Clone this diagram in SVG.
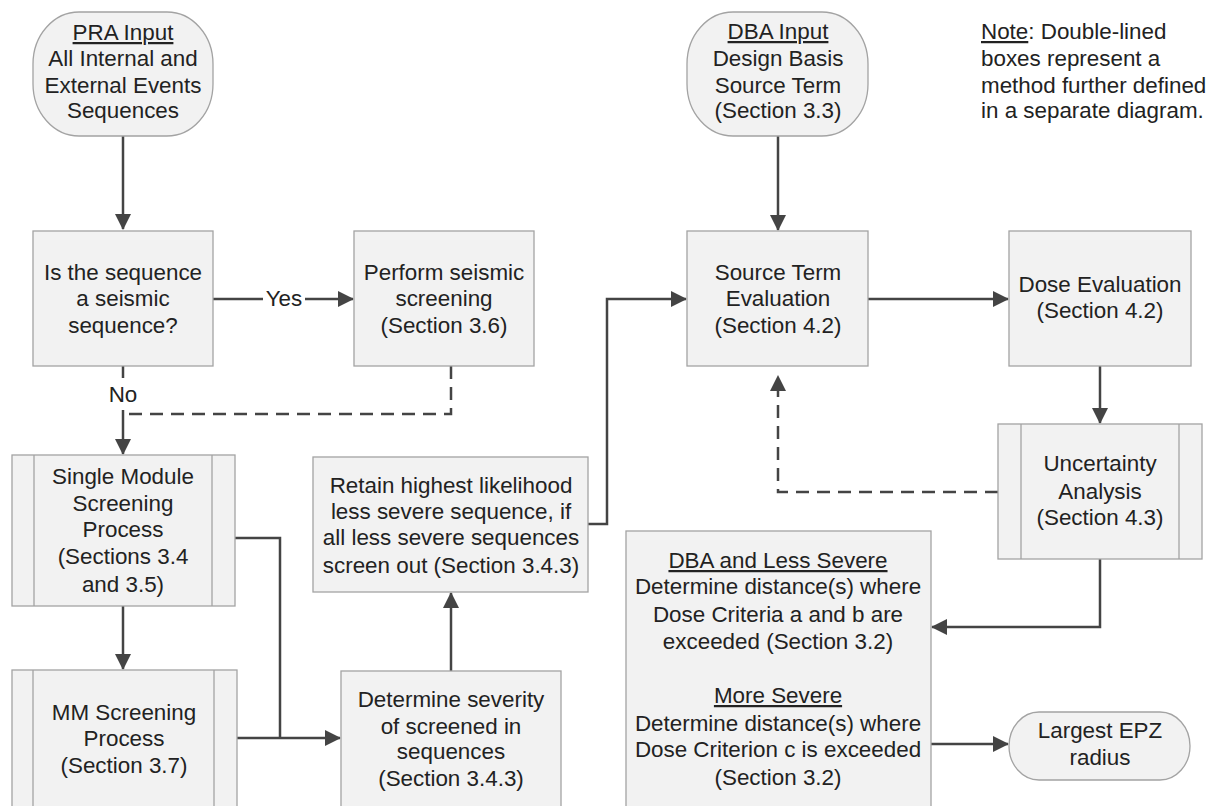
<svg xmlns="http://www.w3.org/2000/svg" width="1211" height="806" viewBox="0 0 1211 806">
  <style>
    .box { fill: #f2f2f2; stroke: #a3a3a3; stroke-width: 1.3; }
    .rule { stroke: #a3a3a3; stroke-width: 1.3; fill: none; }
    .t { font-family: "Liberation Sans", Arial, sans-serif; font-size: 22.4px; fill: #222222; text-anchor: middle; }
    .lt { font-family: "Liberation Sans", Arial, sans-serif; font-size: 22.4px; fill: #222222; text-anchor: start; }
    .u { text-decoration: underline; }
    .c { fill: none; stroke: #444444; stroke-width: 2.5; }
    .dash { stroke-dasharray: 13 8; }
  </style>
  <defs>
    <marker id="arrow" viewBox="0 0 16 16" refX="15" refY="8" markerWidth="16" markerHeight="16" markerUnits="userSpaceOnUse" orient="auto">
      <path d="M0,0 L16,8 L0,16 z" fill="#444444"/>
    </marker>
  </defs>

  <rect width="1211" height="806" fill="#ffffff"/>

  <!-- Connectors -->
  <g id="connectors">
    <line class="c" x1="123" y1="136" x2="123" y2="229" marker-end="url(#arrow)"/>
    <line class="c" x1="213" y1="299" x2="263" y2="299"/>
    <line class="c" x1="305" y1="299" x2="353" y2="299" marker-end="url(#arrow)"/>
    <line class="c" x1="123" y1="366" x2="123" y2="378"/>
    <line class="c" x1="123" y1="410" x2="123" y2="454" marker-end="url(#arrow)"/>
    <polyline class="c dash" points="451,366 451,414 125,414"/>
    <line class="c" x1="123" y1="606" x2="123" y2="669" marker-end="url(#arrow)"/>
    <polyline class="c" points="235,538 280,538 280,738"/>
    <line class="c" x1="237" y1="738" x2="340" y2="738" marker-end="url(#arrow)"/>
    <line class="c" x1="451" y1="671" x2="451" y2="593" marker-end="url(#arrow)"/>
    <polyline class="c" points="588,524 607,524 607,299 686,299" marker-end="url(#arrow)"/>
    <line class="c" x1="778" y1="136" x2="778" y2="230" marker-end="url(#arrow)"/>
    <line class="c" x1="868" y1="299" x2="1008" y2="299" marker-end="url(#arrow)"/>
    <line class="c" x1="1100" y1="366" x2="1100" y2="423" marker-end="url(#arrow)"/>
    <polyline class="c dash" points="998,492 778,492 778,376" marker-end="url(#arrow)"/>
    <polyline class="c" points="1100,559 1100,627 932,627" marker-end="url(#arrow)"/>
    <line class="c" x1="931" y1="744" x2="1008" y2="744" marker-end="url(#arrow)"/>
    <text class="t" x="284" y="306">Yes</text>
    <text class="t" x="123" y="402">No</text>
  </g>

  <!-- PRA input terminal -->
  <g id="pra-input">
    <rect class="box" x="33" y="12" width="180" height="124" rx="46" ry="52"/>
    <text class="t" x="123" y="40"><tspan class="u">PRA Input</tspan></text>
    <text class="t" x="123" y="66">All Internal and</text>
    <text class="t" x="123" y="93">External Events</text>
    <text class="t" x="123" y="118">Sequences</text>
  </g>

  <!-- Seismic question -->
  <g id="seismic-question">
    <rect class="box" x="33" y="231" width="180" height="135"/>
    <text class="t" x="123" y="280">Is the sequence</text>
    <text class="t" x="123" y="306">a seismic</text>
    <text class="t" x="123" y="333">sequence?</text>
  </g>

  <!-- Seismic screening -->
  <g id="seismic-screening">
    <rect class="box" x="354" y="231" width="180" height="135"/>
    <text class="t" x="444" y="280">Perform seismic</text>
    <text class="t" x="444" y="306">screening</text>
    <text class="t" x="444" y="333">(Section 3.6)</text>
  </g>

  <!-- Single module screening (double-lined) -->
  <g id="single-module">
    <rect class="box" x="12" y="455" width="223" height="151"/>
    <line class="rule" x1="34" y1="455" x2="34" y2="606"/>
    <line class="rule" x1="212" y1="455" x2="212" y2="606"/>
    <text class="t" x="123" y="484">Single Module</text>
    <text class="t" x="123" y="511">Screening</text>
    <text class="t" x="123" y="537">Process</text>
    <text class="t" x="123" y="564">(Sections 3.4</text>
    <text class="t" x="123" y="592">and 3.5)</text>
  </g>

  <!-- MM screening (double-lined) -->
  <g id="mm-screening">
    <rect class="box" x="12" y="670" width="225" height="150"/>
    <line class="rule" x1="33" y1="670" x2="33" y2="820"/>
    <line class="rule" x1="214" y1="670" x2="214" y2="820"/>
    <text class="t" x="124" y="720">MM Screening</text>
    <text class="t" x="124" y="746">Process</text>
    <text class="t" x="124" y="773">(Section 3.7)</text>
  </g>

  <!-- Severity determination -->
  <g id="severity">
    <rect class="box" x="341" y="671" width="220" height="150"/>
    <text class="t" x="451" y="707">Determine severity</text>
    <text class="t" x="451" y="734">of screened in</text>
    <text class="t" x="451" y="759">sequences</text>
    <text class="t" x="451" y="786">(Section 3.4.3)</text>
  </g>

  <!-- Retain highest likelihood -->
  <g id="retain">
    <rect class="box" x="313" y="457" width="275" height="135"/>
    <text class="t" x="451" y="493">Retain highest likelihood</text>
    <text class="t" x="451" y="519">less severe sequence, if</text>
    <text class="t" x="451" y="545">all less severe sequences</text>
    <text class="t" x="451" y="573">screen out (Section 3.4.3)</text>
  </g>

  <!-- DBA input terminal -->
  <g id="dba-input">
    <rect class="box" x="687" y="12" width="181" height="124" rx="46" ry="52"/>
    <text class="t" x="778" y="39"><tspan class="u">DBA Input</tspan></text>
    <text class="t" x="778" y="66">Design Basis</text>
    <text class="t" x="778" y="93">Source Term</text>
    <text class="t" x="778" y="118">(Section 3.3)</text>
  </g>

  <!-- Note -->
  <g id="note">
    <text class="lt" x="981" y="39"><tspan class="u">Note</tspan>: Double-lined</text>
    <text class="lt" x="981" y="66">boxes represent a</text>
    <text class="lt" x="981" y="93">method further defined</text>
    <text class="lt" x="981" y="118">in a separate diagram.</text>
  </g>

  <!-- Source term evaluation -->
  <g id="source-term">
    <rect class="box" x="687" y="231" width="181" height="135"/>
    <text class="t" x="778" y="280">Source Term</text>
    <text class="t" x="778" y="306">Evaluation</text>
    <text class="t" x="778" y="333">(Section 4.2)</text>
  </g>

  <!-- Dose evaluation -->
  <g id="dose-evaluation">
    <rect class="box" x="1009" y="231" width="182" height="135"/>
    <text class="t" x="1100" y="292">Dose Evaluation</text>
    <text class="t" x="1100" y="318">(Section 4.2)</text>
  </g>

  <!-- Uncertainty analysis (double-lined) -->
  <g id="uncertainty">
    <rect class="box" x="998" y="424" width="204" height="135"/>
    <line class="rule" x1="1021" y1="424" x2="1021" y2="559"/>
    <line class="rule" x1="1179" y1="424" x2="1179" y2="559"/>
    <text class="t" x="1100" y="471">Uncertainty</text>
    <text class="t" x="1100" y="499">Analysis</text>
    <text class="t" x="1100" y="525">(Section 4.3)</text>
  </g>

  <!-- Distance determination -->
  <g id="distance">
    <rect class="box" x="626" y="531" width="305" height="290"/>
    <text class="t" x="778" y="568"><tspan class="u">DBA and Less Severe</tspan></text>
    <text class="t" x="778" y="594">Determine distance(s) where</text>
    <text class="t" x="778" y="622">Dose Criteria a and b are</text>
    <text class="t" x="778" y="649">exceeded (Section 3.2)</text>
    <text class="t" x="778" y="703"><tspan class="u">More Severe</tspan></text>
    <text class="t" x="778" y="731">Determine distance(s) where</text>
    <text class="t" x="778" y="757">Dose Criterion c is exceeded</text>
    <text class="t" x="778" y="785">(Section 3.2)</text>
  </g>

  <!-- Largest EPZ radius terminal -->
  <g id="epz">
    <rect class="box" x="1009" y="712" width="181" height="68" rx="30" ry="34"/>
    <text class="t" x="1100" y="738">Largest EPZ</text>
    <text class="t" x="1100" y="765">radius</text>
  </g>
</svg>
